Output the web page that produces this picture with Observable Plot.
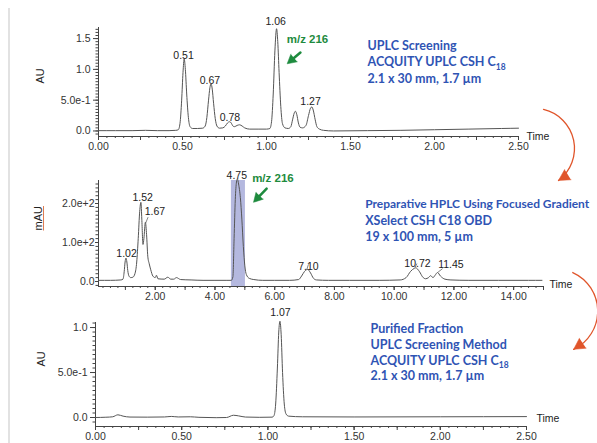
<!DOCTYPE html>
<html><head><meta charset="utf-8">
<script src="https://cdn.jsdelivr.net/npm/d3@7"></script>
<script src="https://cdn.jsdelivr.net/npm/@observablehq/plot@0.6"></script>
<style>
html,body{margin:0;padding:0;background:#fff;}
#chart{position:relative;width:597px;height:443px;overflow:hidden;background:#fff;}
#edge{position:absolute;left:8px;top:8px;width:2px;height:435px;background:#e2e2e2;}
</style></head>
<body><div id="chart"><div id="edge"></div></div>
<script>
// ---------- Panel 1: UPLC screening ----------
const p1Time = [0.00,0.10,0.20,0.28,0.35,0.42,0.46,0.475,0.485,0.495,0.503,0.51,0.517,0.525,0.535,0.545,0.56,0.59,0.62,0.635,0.645,0.655,0.663,0.67,0.677,0.685,0.695,0.705,0.72,0.74,0.755,0.768,0.78,0.79,0.80,0.81,0.825,0.84,0.855,0.87,0.90,0.95,1.00,1.02,1.03,1.04,1.05,1.06,1.067,1.075,1.085,1.095,1.11,1.13,1.145,1.155,1.165,1.172,1.18,1.19,1.20,1.215,1.235,1.25,1.262,1.27,1.278,1.29,1.30,1.315,1.34,1.40,1.60,1.80,2.00,2.20,2.40,2.50];
const p1AU = [0.005,0.005,0.005,0.01,0.005,0.005,0.01,0.02,0.12,0.5,0.95,1.17,1.0,0.6,0.22,0.07,0.04,0.04,0.045,0.08,0.22,0.5,0.7,0.765,0.68,0.45,0.2,0.08,0.045,0.05,0.08,0.13,0.15,0.13,0.08,0.07,0.09,0.10,0.08,0.05,0.03,0.03,0.03,0.04,0.15,0.6,1.3,1.66,1.45,0.95,0.4,0.12,0.05,0.04,0.07,0.18,0.29,0.32,0.27,0.13,0.06,0.05,0.09,0.25,0.37,0.39,0.34,0.18,0.07,0.03,0.01,0.0,0.005,0.01,0.02,0.03,0.04,0.045];
const p1LabelText = ["0.51","0.67","0.78","1.06","1.27"];
const p1LabelT = [0.506,0.663,0.782,1.055,1.262];
const p1LabelV = [1.22,0.82,0.22,1.77,0.47];
const p1XTicks = [0,0.5,1,1.5,2,2.5];
const p1XTickLabels = ["0.00","0.50","1.00","1.50","2.00","2.50"];
const p1YTicks = [0,0.5,1,1.5];
const p1YTickLabels = ["0.0","5.0e-1","1.0","1.5"];
const p1Notes = ["UPLC Screening","ACQUITY UPLC CSH C18","2.1 x 30 mm, 1.7 µm"];
const p1NoteV = [1.380,1.112,0.844];

// ---------- Panel 2: preparative HPLC ----------
const p2Time = [0.1,0.5,0.85,0.92,0.96,0.99,1.02,1.05,1.08,1.12,1.18,1.25,1.32,1.38,1.43,1.48,1.52,1.55,1.59,1.62,1.67,1.71,1.75,1.80,1.85,1.92,2.0,2.04,2.09,2.3,2.42,2.52,2.62,2.71,2.85,3.2,3.6,4.0,4.4,4.55,4.6,4.64,4.68,4.72,4.75,4.79,4.85,4.9,4.95,5.0,5.05,5.15,5.3,5.6,6.0,6.5,6.8,6.9,7.0,7.1,7.2,7.3,7.4,7.8,8.5,9.5,10.2,10.4,10.55,10.68,10.72,10.85,10.95,11.05,11.15,11.22,11.3,11.37,11.45,11.55,11.7,11.9,12.5,13.5,14.5,14.95];
const p2mAU = [3,3,4,6,25,50,60,50,28,14,10,11,20,50,110,180,203,160,95,110,152,120,65,45,30,14,10,16,7,6,11,6,6,10,5,4,3,3,3,3,12,110,210,255,263,250,215,160,90,40,18,8,5,3,3,3,5,14,26,31,22,8,4,3,3,3,4,10,26,34,35,25,12,7,10,15,10,16,23,14,6,4,3,3,3,3];
const p2LabelText = ["1.02","1.52","1.67","4.75","7.10","10.72","11.45"];
const p2LabelT = [1.04,1.58,1.99,4.73,7.13,10.78,11.9];
const p2LabelV = [71,214,178,272,39,47,43];
const p2LeaderT1 = [1.68,7.08,10.70,11.47];
const p2LeaderV1 = [150,32,36,24];
const p2LeaderT2 = [1.76,7.13,10.76,11.62];
const p2LeaderV2 = [165,44,46,33];
const p2FractionStart = 4.55, p2FractionEnd = 5.02;
const p2XTicks = [2,4,6,8,10,12,14];
const p2XTickLabels = ["2.00","4.00","6.00","8.00","10.00","12.00","14.00"];
const p2YTicks = [0,100,200];
const p2YTickLabels = ["0.0","1.0e+2","2.0e+2"];
const p2Notes = ["Preparative HPLC Using Focused Gradient","XSelect CSH C18 OBD","19 x 100 mm, 5 µm"];
const p2NoteV = [199,156,115];

// ---------- Panel 3: purified fraction ----------
const p3Time = [0.00,0.06,0.10,0.13,0.16,0.20,0.30,0.40,0.44,0.48,0.55,0.60,0.70,0.76,0.80,0.83,0.87,0.95,1.025,1.035,1.045,1.055,1.063,1.07,1.077,1.085,1.095,1.105,1.12,1.20,1.50,2.00,2.50];
const p3AU = [0.0,0.003,0.008,0.03,0.015,0.005,0.004,0.006,0.012,0.006,0.008,0.002,-0.002,0.0,0.025,0.018,0.005,0.002,0.004,0.02,0.15,0.55,0.95,1.07,0.92,0.5,0.15,0.04,0.015,0.008,0.006,0.008,0.01];
const p3LabelText = ["1.07"];
const p3LabelT = [1.073];
const p3LabelV = [1.163];
const p3XTicks = [0,0.5,1,1.5,2,2.5];
const p3XTickLabels = ["0.00","0.50","1.00","1.50","2.00","2.50"];
const p3YTicks = [0,0.5,1];
const p3YTickLabels = ["0.0","5.0e-1","1.0"];
const p3Notes = ["Purified Fraction","UPLC Screening Method","ACQUITY UPLC CSH C18","2.1 x 30 mm, 1.7 µm"];
const p3NoteV = [0.986,0.811,0.633,0.456];

// ---------- annotations ----------
const mzText = "m/z 216";
const p1Mz = {t: 1.244, v: 1.485, t1: 1.202, v1: 1.274, t2: 1.123, v2: 1.091, rot: 230};
const p2Mz = {t: 5.94, v: 264, t1: 5.73, v1: 238, t2: 5.29, v2: 203, rot: 223};
const flow1 = {t1: 2.649, v1: 0.349, t2: 2.738, v2: -0.804, rot: 238};
const flow2 = {t1: 15.98, v1: 23, t2: 16.01, v2: -174, rot: 236};

const TRACE = "#555", AXIS = "#444", BLUE = "#2f54b4", GREEN = "#1e8b3e", RED = "#e0552b";
const BLUEFONT = "Lato, 'Open Sans', sans-serif";
const root = document.getElementById("chart");

const rows = (ts, vs) => ts.map((t, i) => ({t, v: vs[i]}));
const labelRows = (s, ts, vs) => s.map((txt, i) => ({txt, t: ts[i], v: vs[i]}));
const fmt = (ticks, labels) => d => labels[ticks.indexOf(d)];

function axes(xDom, yDom, xMinor, xMid, xTicks, xLabels, yMinor, yTicks, yLabels, ySize, yPad) {
  return [
    Plot.ruleY([yDom[0]], {stroke: AXIS}),
    Plot.ruleX([xDom[0]], {stroke: AXIS}),
    Plot.axisX(xMinor, {tickSize: 2, tickFormat: () => "", stroke: AXIS, label: null}),
    Plot.axisX(xMid, {tickSize: 4, tickFormat: () => "", stroke: AXIS, label: null}),
    Plot.axisX(xTicks, {tickSize: 4, tickPadding: 2, tickFormat: fmt(xTicks, xLabels), stroke: AXIS, label: null}),
    Plot.axisY(yMinor, {tickSize: 2.5, tickFormat: () => "", stroke: AXIS, label: null}),
    Plot.axisY(yTicks, {tickSize: ySize, tickPadding: yPad, tickFormat: fmt(yTicks, yLabels), stroke: AXIS, label: null})
  ];
}

function notes(lines, x, vs) {
  return Plot.text(lines.map((s, i) => ({s, v: vs[i]})), {
    x: () => x, y: "v", text: "s", textAnchor: "start", fill: BLUE,
    fontFamily: BLUEFONT, fontWeight: "bold", fontSize: 12.5
  });
}

function mzMarks(m) {
  return [
    Plot.text([m], {x: "t", y: "v", text: () => mzText, fill: GREEN, fontWeight: "bold", fontSize: 11.5,
      fontFamily: "'Liberation Sans', Arial, sans-serif"}),
    Plot.arrow([m], {x1: "t1", y1: "v1", x2: "t2", y2: "v2", stroke: GREEN, strokeWidth: 2.5, headLength: 0, insetEnd: 5}),
    Plot.vector([m], {x: "t2", y: "v2", shape: "spike", anchor: "end", length: 9, r: 5, rotate: m.rot, fill: GREEN, stroke: GREEN, strokeWidth: 0.5})
  ];
}

function flowMarks(f) {
  return [
    Plot.arrow([f], {x1: "t1", y1: "v1", x2: "t2", y2: "v2", bend: 65, stroke: RED, strokeWidth: 1.3, headLength: 0}),
    Plot.vector([f], {x: "t2", y: "v2", shape: "spike", anchor: "end", length: 11, r: 6, rotate: f.rot, fill: RED, stroke: RED, strokeWidth: 0.5})
  ];
}

function place(svg, top) {
  svg.style.position = "absolute";
  svg.style.left = "0px";
  svg.style.top = top + "px";
  root.appendChild(svg);
}

const baseStyle = {background: "transparent", overflow: "visible",
  fontFamily: "'Liberation Sans', Arial, sans-serif", fontSize: "10.5px", color: "#333"};

// Panel 1
const p1XDom = [0, 2.5], p1YDom = [-0.09, 1.68];
place(Plot.plot({
  width: 597, height: 190, marginTop: 27, marginBottom: 54, marginLeft: 98, marginRight: 79,
  x: {domain: p1XDom, label: null}, y: {domain: p1YDom, label: null}, style: baseStyle,
  marks: [
    ...axes(p1XDom, p1YDom, d3.range(0, 2.5001, 0.05), d3.range(0, 2.5001, 0.25), p1XTicks, p1XTickLabels,
      d3.range(-0.05, 1.66, 0.05), p1YTicks, p1YTickLabels, 5, 3),
    Plot.line(rows(p1Time, p1AU), {x: "t", y: "v", stroke: TRACE, strokeWidth: 1, curve: "monotone-x"}),
    Plot.text(labelRows(p1LabelText, p1LabelT, p1LabelV), {x: "t", y: "v", text: "txt", fill: "#222"}),
    notes(p1Notes, 1.601, p1NoteV),
    ...mzMarks(p1Mz),
    ...flowMarks(flow1),
    Plot.text(["Time"], {frameAnchor: "bottom-right", textAnchor: "start", dx: 8, dy: 3, fill: "#222"}),
    Plot.text(["AU"], {frameAnchor: "left", rotate: -90, dx: -58.5, dy: 1.5, fill: "#222", fontSize: 11})
  ]
}), 0);

// Panel 2
const p2XDom = [0.1, 15], p2YDom = [-12.8, 259];
place(Plot.plot({
  width: 597, height: 215, marginTop: 30, marginBottom: 79, marginLeft: 98, marginRight: 54,
  x: {domain: p2XDom, label: null}, y: {domain: p2YDom, label: null}, style: baseStyle,
  marks: [
    Plot.rect([{a: p2FractionStart, b: p2FractionEnd}], {x1: "a", x2: "b", y1: () => p2YDom[0], y2: () => p2YDom[1], fill: "#b4b8df"}),
    ...axes(p2XDom, p2YDom, d3.range(0.25, 15.001, 0.25), d3.range(1, 15.001, 1), p2XTicks, p2XTickLabels,
      d3.range(-10, 251, 10), p2YTicks, p2YTickLabels, 3, 1),
    Plot.line(rows(p2Time, p2mAU), {x: "t", y: "v", stroke: TRACE, strokeWidth: 1, curve: "monotone-x"}),
    Plot.link(p2LeaderT1.map((t, i) => ({t1: t, v1: p2LeaderV1[i], t2: p2LeaderT2[i], v2: p2LeaderV2[i]})),
      {x1: "t1", y1: "v1", x2: "t2", y2: "v2", stroke: "#666", strokeWidth: 0.8}),
    Plot.text(labelRows(p2LabelText, p2LabelT, p2LabelV), {x: "t", y: "v", text: "txt", fill: "#222"}),
    notes(p2Notes, 9.03, p2NoteV),
    ...mzMarks(p2Mz),
    ...flowMarks(flow2),
    Plot.text(["Time"], {frameAnchor: "bottom-right", textAnchor: "start", dx: 6, dy: 1, fill: "#222"}),
    Plot.text(["mAU"], {frameAnchor: "left", rotate: -90, dx: -60, dy: -3, fill: "#222", fontSize: 11})
  ]
}), 150);

// Panel 3
const p3XDom = [0, 2.5], p3YDom = [-0.1, 1.056];
place(Plot.plot({
  width: 597, height: 143, marginTop: 22, marginBottom: 17, marginLeft: 95, marginRight: 71,
  x: {domain: p3XDom, label: null}, y: {domain: p3YDom, label: null}, style: baseStyle,
  marks: [
    ...axes(p3XDom, p3YDom, d3.range(0, 2.5001, 0.05), d3.range(0, 2.5001, 0.25), p3XTicks, p3XTickLabels,
      d3.range(-0.05, 1.051, 0.05), p3YTicks, p3YTickLabels, 5, 3),
    Plot.line(rows(p3Time, p3AU), {x: "t", y: "v", stroke: TRACE, strokeWidth: 1, curve: "monotone-x"}),
    Plot.text(labelRows(p3LabelText, p3LabelT, p3LabelV), {x: "t", y: "v", text: "txt", fill: "#222"}),
    notes(p3Notes, 1.595, p3NoteV),
    Plot.text(["Time"], {frameAnchor: "bottom-right", textAnchor: "start", dx: 10, dy: -5, fill: "#222"}),
    Plot.text(["AU"], {frameAnchor: "left", rotate: -90, dx: -54, dy: -8, fill: "#222", fontSize: 11})
  ]
}), 300);

// subscript "18" in C18, fit the long note inside the picture, orange underline on mAU
root.querySelectorAll("text, tspan").forEach(t => {
  if (t.children.length !== 0) return;
  if (t.textContent === "ACQUITY UPLC CSH C18") {
    t.textContent = "ACQUITY UPLC CSH C";
    const s = document.createElementNS("http://www.w3.org/2000/svg", "tspan");
    s.setAttribute("dy", "3.5");
    s.setAttribute("font-size", "8.5");
    s.textContent = "18";
    t.appendChild(s);
  } else if (t.textContent === p2Notes[0]) {
    const len = t.getComputedTextLength();
    const maxLen = 224;
    if (len > maxLen) t.setAttribute("font-size", (12.5 * maxLen / len).toFixed(2));
  } else if (t.textContent === "mAU") {
    const b = t.getBBox();
    const ln = document.createElementNS("http://www.w3.org/2000/svg", "line");
    ln.setAttribute("x1", b.x);
    ln.setAttribute("x2", b.x + b.width);
    ln.setAttribute("y1", b.y + b.height - 0.5);
    ln.setAttribute("y2", b.y + b.height - 0.5);
    ln.setAttribute("stroke", "#e07a50");
    ln.setAttribute("stroke-width", "1");
    const tr = t.getAttribute("transform");
    if (tr) ln.setAttribute("transform", tr);
    t.parentNode.appendChild(ln);
  }
});
</script>
</body></html>
